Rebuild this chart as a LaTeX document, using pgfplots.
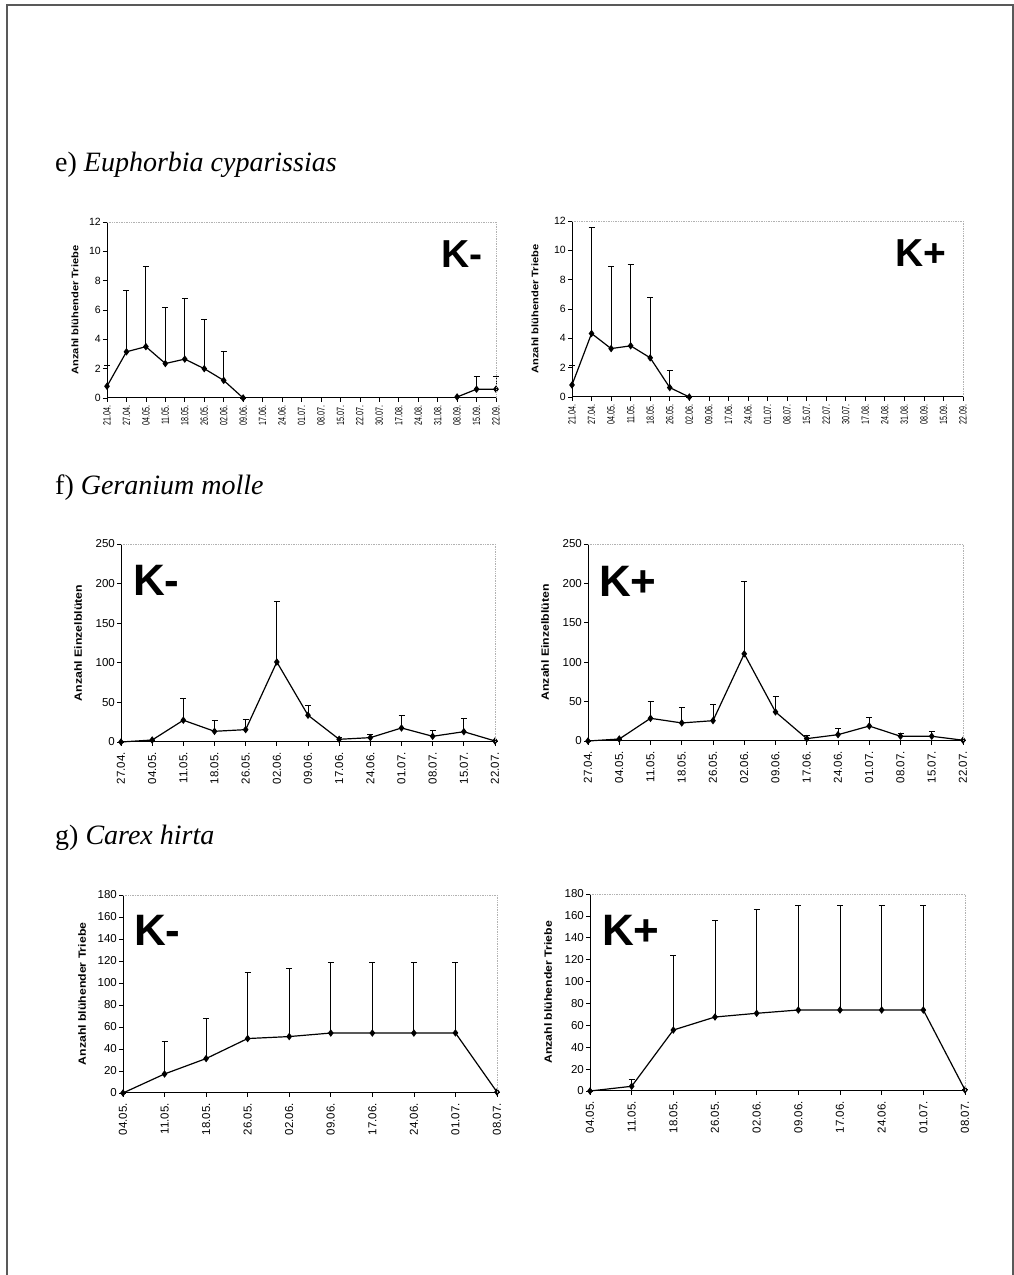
\documentclass[border=0pt]{standalone}
\usepackage{fontspec}
\usepackage{pgfplots}
\pgfplotsset{compat=1.18}
\setmainfont{Liberation Sans}
\newfontfamily\titlefont{Liberation Serif}
\newfontfamily\xtickfont[FakeStretch=0.68]{Liberation Sans}
\newfontfamily\ylabfont[FakeStretch=1.17]{Liberation Sans}

\tikzset{kbig/.style={font=\bfseries\fontsize{44}{44}\selectfont, inner sep=0pt}}
\pgfplotsset{
  panel/.style={
    scale only axis, anchor=south west, clip=false,
    axis x line=bottom, axis y line=left,
    axis line style={-, black, line width=1pt},
    xmin=0, ymin=0,
    tick style={black, line width=0.7pt},
    major tick length=4pt,
    xtick align=outside, ytick align=outside,
    x tick label style={rotate=90, anchor=east, font=\xtickfont\fontsize{10.5}{11}\selectfont, inner sep=1pt, xshift=-2pt},
    y tick label style={font=\fontsize{10.5}{11}\selectfont, inner sep=2pt},
    /pgf/number format/assume math mode=true,
    ylabel style={font=\ylabfont\bfseries\fontsize{9.5}{10}\selectfont, at={(axis description cs:0,0.5)}, anchor=center},
    after end axis/.code={\draw[gray!60, densely dotted, line width=0.7pt] (rel axis cs:0,1) -- (rel axis cs:1,1) -- (rel axis cs:1,0);},
  },
  panelbig/.style={panel,
    x tick label style={font=\fontsize{11.5}{12}\selectfont, inner sep=1pt, xshift=-3pt},
    y tick label style={font=\fontsize{11.5}{12}\selectfont},
    ylabel style={font=\ylabfont\bfseries\fontsize{10.5}{11}\selectfont},
  },
  ser/.style={black, line width=1.2pt, mark=diamond*, mark size=2.8pt, mark options={solid, fill=black},
    error bars/.cd, y dir=plus, y explicit,
    error bar style={black, line width=0.9pt},
    error mark options={black, rotate=90, mark size=3pt, line width=0.9pt}},
}

\begin{document}
\begin{tikzpicture}
\useasboundingbox (0,0) rectangle (1014pt,1275pt);
\draw[black!65, line width=2pt] (6.7pt,0pt) -- (6.7pt,1270pt) -- (1012.5pt,1270pt) -- (1012.5pt,0pt);

% titles
\node[anchor=base west, inner sep=0pt, font=\titlefont\fontsize{28}{30}\selectfont] at (55pt,1103pt) {e) \textit{Euphorbia cyparissias}};
\node[anchor=base west, inner sep=0pt, font=\titlefont\fontsize{28}{30}\selectfont] at (55pt,780pt) {f) \textit{Geranium molle}};
\node[anchor=base west, inner sep=0pt, font=\titlefont\fontsize{28}{30}\selectfont] at (55pt,430pt) {g) \textit{Carex hirta}};

% ---------- e) K- ----------
\begin{axis}[panel, at={(107pt,877pt)}, width=389pt, height=176pt,
  xmax=20, ymax=12, ytick={0,2,...,12}, xtick={0,...,20},
  xticklabels={21.04.,27.04.,04.05.,11.05.,18.05.,26.05.,02.06.,09.06.,17.06.,24.06.,01.07.,08.07.,15.07.,22.07.,30.07.,17.08.,24.08.,31.08.,08.09.,15.09.,22.09.},
  ylabel={Anzahl blühender Triebe}, ylabel style={yshift=32pt}]
\addplot[ser] table[x=x, y=y, y error=e] {
x y e
0 0.80 1.40
1 3.15 4.20
2 3.50 5.50
3 2.35 3.85
4 2.65 4.15
5 2.00 3.35
6 1.20 1.95
7 0.00 0.00
};
\addplot[ser] table[x=x, y=y, y error=e] {
x y e
18 0.07 0.00
19 0.60 0.85
20 0.60 0.85
};
\node[kbig, anchor=base east, font=\bfseries\fontsize{39}{39}\selectfont] at (rel axis cs:0.967,0.739) {K-};
\end{axis}

% ---------- e) K+ ----------
\begin{axis}[panel, at={(572pt,878pt)}, width=391pt, height=176pt,
  xmax=20, ymax=12, ytick={0,2,...,12}, xtick={0,...,20},
  xticklabels={21.04.,27.04.,04.05.,11.05.,18.05.,26.05.,02.06.,09.06.,17.06.,24.06.,01.07.,08.07.,15.07.,22.07.,30.07.,17.08.,24.08.,31.08.,08.09.,15.09.,22.09.},
  ylabel={Anzahl blühender Triebe}, ylabel style={yshift=37pt}]
\addplot[ser] table[x=x, y=y, y error=e] {
x y e
0 0.82 1.35
1 4.33 7.24
2 3.30 5.58
3 3.49 5.55
4 2.67 4.12
5 0.64 1.14
6 0.00 0.00
};
\node[kbig, anchor=base east, font=\bfseries\fontsize{39}{39}\selectfont] at (rel axis cs:0.959,0.739) {K+};
\end{axis}

% ---------- f) K- ----------
\begin{axis}[panelbig, at={(121pt,533pt)}, width=374pt, height=198pt,
  xmax=12, ymax=250, ytick={0,50,...,250}, xtick={0,...,12},
  xticklabels={27.04.,04.05.,11.05.,18.05.,26.05.,02.06.,09.06.,17.06.,24.06.,01.07.,08.07.,15.07.,22.07.},
  ylabel={Anzahl Einzelblüten}, ylabel style={yshift=43pt}]
\addplot[ser] table[x=x, y=y, y error=e] {
x y e
0 0.0 0.0
1 2.5 0.0
2 27.5 27.8
3 13.5 13.1
4 15.6 12.7
5 101.0 76.0
6 33.8 11.8
7 3.4 2.0
8 5.5 4.2
9 17.7 15.3
10 7.2 7.6
11 13.0 17.0
12 1.3 0.0
};
\node[kbig, anchor=base west] at (rel axis cs:0.032,0.742) {K-};
\end{axis}

% ---------- f) K+ ----------
\begin{axis}[panelbig, at={(588pt,534pt)}, width=375pt, height=197pt,
  xmax=12, ymax=250, ytick={0,50,...,250}, xtick={0,...,12},
  xticklabels={27.04.,04.05.,11.05.,18.05.,26.05.,02.06.,09.06.,17.06.,24.06.,01.07.,08.07.,15.07.,22.07.},
  ylabel={Anzahl Einzelblüten}, ylabel style={yshift=43pt}]
\addplot[ser] table[x=x, y=y, y error=e] {
x y e
0 0.0 0.0
1 2.5 0.0
2 28.8 20.8
3 22.9 20.3
4 25.8 20.8
5 110.6 92.4
6 36.9 19.9
7 3.0 4.6
8 8.0 7.3
9 19.0 11.5
10 6.0 3.0
11 6.0 6.0
12 1.0 0.0
};
\node[kbig, anchor=base west] at (rel axis cs:0.029,0.736) {K+};
\end{axis}

% ---------- g) K- ----------
\begin{axis}[panelbig, at={(123pt,182pt)}, width=374pt, height=198pt,
  xmax=9, ymax=180, ytick={0,20,...,180}, xtick={0,...,9},
  xticklabels={04.05.,11.05.,18.05.,26.05.,02.06.,09.06.,17.06.,24.06.,01.07.,08.07.},
  ylabel={Anzahl blühender Triebe}, ylabel style={yshift=41pt}]
\addplot[ser] table[x=x, y=y, y error=e] {
x y e
0 0.0 0.0
1 17.3 29.7
2 31.3 36.1
3 49.5 59.8
4 51.3 61.6
5 54.5 64.5
6 54.5 64.5
7 54.5 64.5
8 54.6 64.4
9 0.9 0.0
};
\node[kbig, anchor=base west] at (rel axis cs:0.029,0.747) {K-};
\end{axis}

% ---------- g) K+ ----------
\begin{axis}[panelbig, at={(590pt,184pt)}, width=375pt, height=197pt,
  xmax=9, ymax=180, ytick={0,20,...,180}, xtick={0,...,9},
  xticklabels={04.05.,11.05.,18.05.,26.05.,02.06.,09.06.,17.06.,24.06.,01.07.,08.07.},
  ylabel={Anzahl blühender Triebe}, ylabel style={yshift=42pt}]
\addplot[ser] table[x=x, y=y, y error=e] {
x y e
0 0.0 0.0
1 4.3 6.4
2 55.7 67.7
3 67.6 88.4
4 71.0 94.7
5 74.0 95.7
6 74.0 95.7
7 74.0 95.7
8 74.0 95.7
9 1.0 0.0
};
\node[kbig, anchor=base west] at (rel axis cs:0.032,0.741) {K+};
\end{axis}
\end{tikzpicture}
\end{document}
